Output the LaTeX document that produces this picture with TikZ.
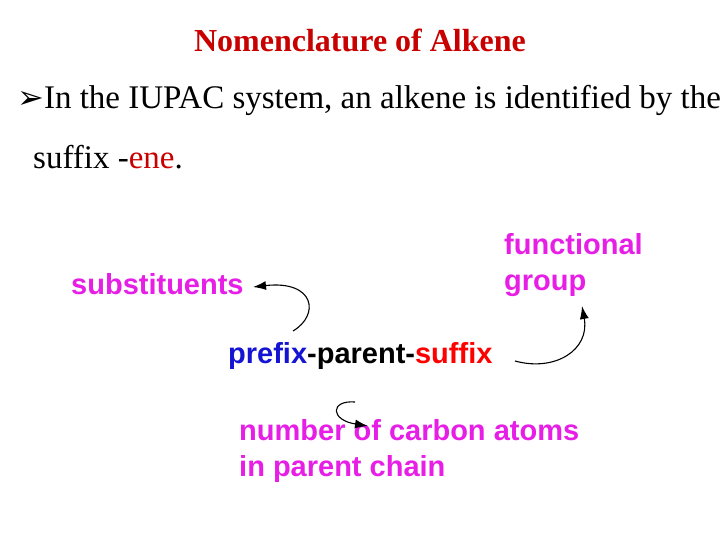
\documentclass[tikz,border=0pt]{standalone}
\usepackage{fontspec}
\setmainfont{Liberation Serif}
\newfontfamily\arial{Liberation Sans}
\newfontfamily\dejavu{DejaVu Sans}
\usetikzlibrary{arrows.meta}
\definecolor{mag}{RGB}{230,30,230}
\definecolor{tred}{RGB}{200,0,0}
\definecolor{pblue}{RGB}{20,20,210}
\begin{document}
\begin{tikzpicture}[x=1pt,y=-1pt,
  lbl/.style={inner sep=0pt,font=\arial\bfseries\fontsize{29}{36}\selectfont,text=mag,align=left},
  conn/.style={-{Latex[length=13pt,width=9pt]},line width=1.1pt}]
\useasboundingbox (0,0) rectangle (720,540);
\node[inner sep=0pt,font=\bfseries\fontsize{32}{36}\selectfont,text=tred] (title) at (360,40) {Nomenclature of Alkene};
\node[inner sep=0pt,anchor=west,font=\fontsize{33}{38}\selectfont] (l1) at (17,100) {{\dejavu\fontsize{32}{36}\selectfont ➢}In the IUPAC system, an alkene is identified by the};
\node[inner sep=0pt,anchor=west,font=\fontsize{33}{38}\selectfont] (l2) at (33,157) {suffix -\textcolor{tred}{ene}.};
\node[lbl,anchor=west] (sub) at (71,284) {substituents};
\node[lbl,anchor=west] (fg) at (504,265) {functional\\group};
\node[lbl,anchor=west,text=black] (ppf) at (228,356) {\textcolor{pblue}{prefix}-parent-\textcolor{red}{suffix}};
\node[lbl,anchor=west] (num) at (239,451) {number of carbon atoms\\in parent chain};
\coordinate (a1) at (293,331);
\coordinate (a2) at (515,361);
\coordinate (a3) at (355,402);
\draw[conn] (a1) .. controls (320,315) and (315,280) .. (253,287);
\draw[conn] (a2) .. controls (555,372) and (590,350) .. (582,306);
\draw[conn] (a3) .. controls (330,400) and (330,420) .. (368,426);
\end{tikzpicture}
\end{document}
